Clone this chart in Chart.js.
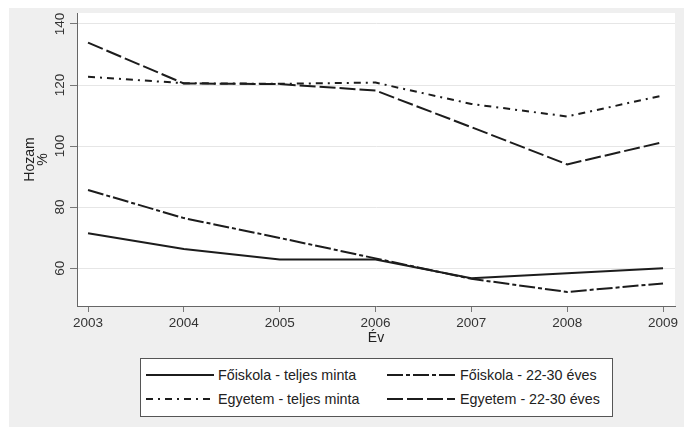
<!DOCTYPE html>
<html lang="hu">
<head>
    <meta charset="UTF-8">
    <title>Hozam</title>
    <script src="https://cdn.jsdelivr.net/npm/chart.js@4.4.1/dist/chart.umd.min.js"></script>
    <style>
        html, body {
            margin: 0;
            padding: 0;
            background: #ffffff;
        }

        .frame {
            position: absolute;
            left: 9px;
            top: 8px;
            width: 675px;
            height: 419px;
            background: #efefef;
        }

        .chart-box {
            position: absolute;
            left: 0;
            top: 0;
            width: 684px;
            height: 427px;
        }

        .legend {
            position: absolute;
            left: 140px;
            top: 358px;
            width: 471px;
            height: 57px;
            background: #ffffff;
            border: 1px solid #555555;
            font-family: 'Liberation Sans', Arial, sans-serif;
            font-size: 14.3px;
            color: #222222;
        }

        .legend svg {
            position: absolute;
        }

        .legend span {
            position: absolute;
            line-height: 16px;
            white-space: nowrap;
        }
    </style>
</head>
<body>
    <div class="frame"></div>
    <div class="chart-box">
        <canvas id="hozamChart" width="684" height="427"></canvas>
    </div>
    <div class="legend" id="legend"></div>

    <script>
        // adatok
        const years = [2003, 2004, 2005, 2006, 2007, 2008, 2009];
        const yTicks = [60, 80, 100, 120, 140];
        const foiskolaTeljes = [71.4, 66.3, 62.8, 62.8, 56.7, 58.3, 60.0];
        const foiskola2230 = [85.6, 76.4, 69.9, 63.2, 56.5, 52.2, 55.0];
        const egyetemTeljes = [122.7, 120.6, 120.4, 120.8, 113.8, 109.7, 116.6];
        const egyetem2230 = [133.9, 120.5, 120.3, 118.2, 106.2, 94.0, 101.3];
        const labels = ['Főiskola - teljes minta', 'Főiskola - 22-30 éves', 'Egyetem - teljes minta', 'Egyetem - 22-30 éves'];

        const lineColor = '#1c1c1c';
        const dashes = [[], [16, 3, 4, 3], [7, 5, 2, 5], [16, 4]];
        const seriesList = [foiskolaTeljes, foiskola2230, egyetemTeljes, egyetem2230];

        const toPoints = values => values.map((v, i) => ({ x: years[i], y: v }));

        // fehér rajzterület
        const plotBackground = {
            id: 'plotBackground',
            beforeDraw(chart) {
                const { ctx, chartArea } = chart;
                ctx.save();
                ctx.fillStyle = '#ffffff';
                ctx.fillRect(chartArea.left, chartArea.top, chartArea.right - chartArea.left, chartArea.bottom - chartArea.top);
                ctx.restore();
            }
        };

        // függőleges (elforgatott) y feliratok
        const rotatedYLabels = {
            id: 'rotatedYLabels',
            afterDraw(chart) {
                const { ctx } = chart;
                const yScale = chart.scales.y;
                ctx.save();
                ctx.fillStyle = '#333333';
                ctx.font = '13.5px "Liberation Sans"';
                ctx.textAlign = 'center';
                ctx.textBaseline = 'middle';
                yTicks.forEach(v => {
                    ctx.save();
                    ctx.translate(60, yScale.getPixelForValue(v));
                    ctx.rotate(-Math.PI / 2);
                    ctx.fillText(String(v), 0, 0);
                    ctx.restore();
                });
                ctx.restore();
            }
        };

        const ctx = document.getElementById('hozamChart').getContext('2d');
        const chart = new Chart(ctx, {
            type: 'line',
            data: {
                datasets: seriesList.map((values, i) => ({
                    label: labels[i],
                    data: toPoints(values),
                    borderColor: lineColor,
                    borderWidth: 2,
                    borderDash: dashes[i],
                    pointRadius: 0,
                    tension: 0,
                    fill: false
                }))
            },
            plugins: [plotBackground, rotatedYLabels],
            options: {
                responsive: false,
                animation: false,
                layout: {
                    padding: { top: 13, right: 9, left: 0, bottom: 0 }
                },
                plugins: {
                    legend: { display: false },
                    tooltip: { enabled: false }
                },
                scales: {
                    x: {
                        type: 'linear',
                        min: 2002.885,
                        max: 2009.125,
                        afterBuildTicks: scale => {
                            scale.ticks = years.map(v => ({ value: v }));
                        },
                        afterFit: scale => {
                            scale.height = 121;
                        },
                        grid: {
                            drawOnChartArea: false,
                            tickLength: 6,
                            tickColor: '#777777'
                        },
                        border: { color: '#666666', width: 1 },
                        ticks: {
                            padding: 3,
                            color: '#333333',
                            font: { family: 'Liberation Sans', size: 13.5 },
                            maxRotation: 0,
                            callback: v => String(v)
                        },
                        title: {
                            display: true,
                            text: 'Év',
                            color: '#222222',
                            font: { family: 'Liberation Sans', size: 14 },
                            padding: { top: 0, bottom: 80 }
                        }
                    },
                    y: {
                        min: 47.6,
                        max: 143.6,
                        afterBuildTicks: scale => {
                            scale.ticks = yTicks.map(v => ({ value: v }));
                        },
                        afterFit: scale => {
                            scale.width = 77;
                        },
                        grid: {
                            color: '#e6e6e6',
                            lineWidth: 1,
                            tickLength: 7,
                            tickColor: '#777777'
                        },
                        border: { color: '#666666', width: 1 },
                        ticks: {
                            display: false
                        },
                        title: {
                            display: true,
                            text: ['Hozam', '%'],
                            color: '#222222',
                            font: { family: 'Liberation Sans', size: 14, lineHeight: 0.9 },
                            padding: { top: 24, bottom: 0 }
                        }
                    }
                }
            }
        });

        // jelmagyarázat
        const legendBox = document.getElementById('legend');
        const legendPos = [
            { lx: 5, ty: 16, tx: 77 },
            { lx: 246, ty: 16, tx: 319 },
            { lx: 5, ty: 40, tx: 77 },
            { lx: 246, ty: 40, tx: 319 }
        ];
        labels.forEach((text, i) => {
            const p = legendPos[i];
            const svg = document.createElementNS('http://www.w3.org/2000/svg', 'svg');
            svg.setAttribute('width', '68');
            svg.setAttribute('height', '6');
            svg.style.left = p.lx + 'px';
            svg.style.top = (p.ty - 3) + 'px';
            const line = document.createElementNS('http://www.w3.org/2000/svg', 'line');
            line.setAttribute('x1', '0');
            line.setAttribute('x2', '68');
            line.setAttribute('y1', '3');
            line.setAttribute('y2', '3');
            line.setAttribute('stroke', lineColor);
            line.setAttribute('stroke-width', '2');
            if (dashes[i].length) line.setAttribute('stroke-dasharray', dashes[i].join(' '));
            svg.appendChild(line);
            legendBox.appendChild(svg);

            const span = document.createElement('span');
            span.textContent = text;
            span.style.left = p.tx + 'px';
            span.style.top = (p.ty - 8) + 'px';
            legendBox.appendChild(span);
        });
    </script>
</body>
</html>
